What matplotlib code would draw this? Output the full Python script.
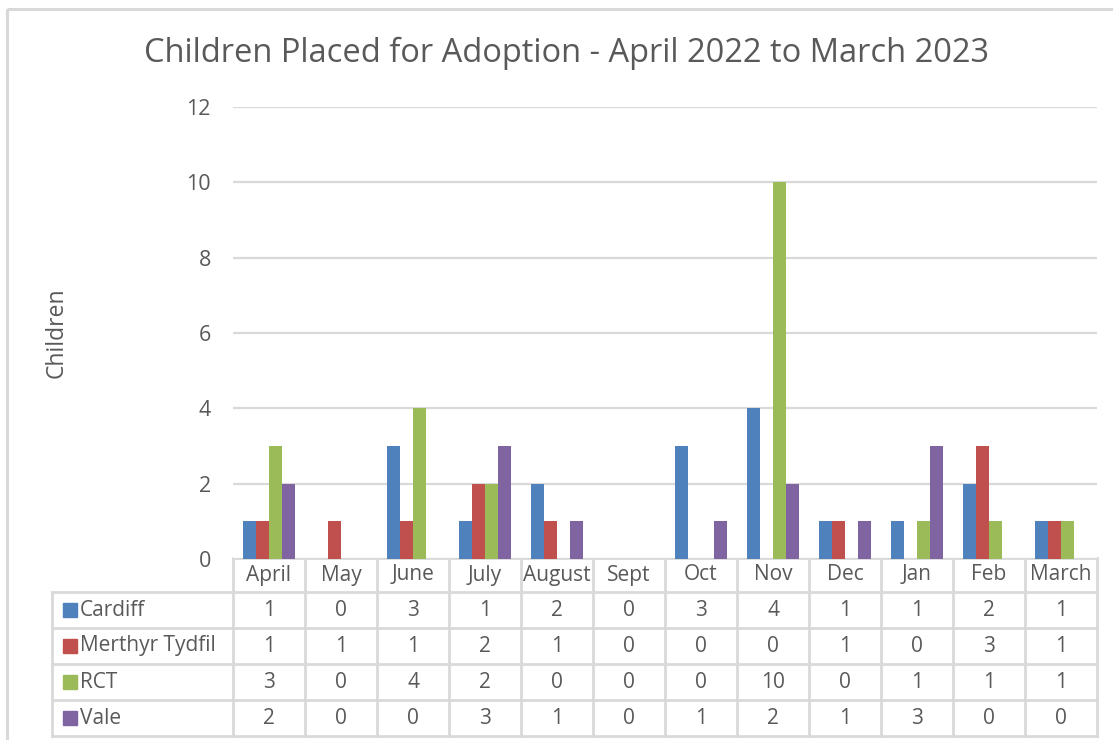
import matplotlib
matplotlib.use('Agg')
import matplotlib.pyplot as plt
from matplotlib.patches import Rectangle
import numpy as np

# data
months = ['April', 'May', 'June', 'July', 'August', 'Sept', 'Oct', 'Nov', 'Dec', 'Jan', 'Feb', 'March']
series_names = ['Cardiff', 'Merthyr Tydfil', 'RCT', 'Vale']
cardiff = [1, 0, 3, 1, 2, 0, 3, 4, 1, 1, 2, 1]
merthyr = [1, 1, 1, 2, 1, 0, 0, 0, 1, 0, 3, 1]
rct = [3, 0, 4, 2, 0, 0, 0, 10, 0, 1, 1, 1]
vale = [2, 0, 0, 3, 1, 0, 1, 2, 1, 3, 0, 0]
colors = ['#4F81BD', '#C0504D', '#9BBB59', '#8064A2']
title = 'Children Placed for Adoption - April 2022 to March 2023'

W, H = 1113, 740
plt.rcParams['font.family'] = ['Open Sans', 'DejaVu Sans']
txt = '#595959'
grid = '#D9D9D9'

fig = plt.figure(figsize=(W / 100, H / 100), dpi=100)

# overlay axes in pixel units (y down) for frame, title and data table
tab = fig.add_axes([0, 0, 1, 1], zorder=-1)
tab.set_xlim(0, W)
tab.set_ylim(H, 0)
tab.axis('off')

# outer chart frame (right/bottom run off the picture)
tab.add_patch(Rectangle((7, 9), 1200, 900, fill=False, edgecolor=grid, lw=2.2))

# plot area
x0, x1, ytop, ybot = 233, 1097, 107, 559
ax = fig.add_axes([x0 / W, 1 - ybot / H, (x1 - x0) / W, (ybot - ytop) / H])
all_series = [cardiff, merthyr, rct, vale]
x = np.arange(len(months))
bw = 0.184
for k, (vals, c) in enumerate(zip(all_series, colors)):
    ax.bar(x + (k - 1.5) * bw, vals, width=bw, color=c, zorder=3)
ax.set_xlim(-0.5, len(months) - 0.5)
ax.set_ylim(0, 12)
ax.set_yticks(range(0, 13, 2))
ax.yaxis.grid(True, color=grid, lw=1.6, zorder=0)
ax.set_xticks([])
for s in ax.spines.values():
    s.set_visible(False)
ax.tick_params(axis='y', length=0, pad=16, labelsize=15.5, labelcolor=txt)
ax.set_ylabel('Children', fontsize=16.5, color=txt)
ax.yaxis.set_label_coords((69 - x0) / (x1 - x0), 0.5)

tab.text(566, 53, title, ha='center', va='center', fontsize=23.5, color=txt)

# data table below the plot area
col_w = (x1 - x0) / len(months)
row_edges = [558, 592, 628, 664, 700, 736]
lw = 2
tab.plot([x0, x1], [row_edges[0], row_edges[0]], color=grid, lw=lw)
for i, m in enumerate(months):
    cx = x0 + (i + 0.5) * col_w
    tab.text(cx, (row_edges[0] + row_edges[1]) / 2, m, ha='center', va='center', fontsize=15, color=txt)
for r in range(1, len(row_edges)):
    tab.plot([52, x1], [row_edges[r], row_edges[r]], color=grid, lw=lw)
for i in range(len(months) + 1):
    tab.plot([x0 + i * col_w] * 2, [row_edges[0], row_edges[-1]], color=grid, lw=lw)
tab.plot([52, 52], [row_edges[1], row_edges[-1]], color=grid, lw=lw)
for r, (name, vals, c) in enumerate(zip(series_names, all_series, colors)):
    cy = (row_edges[r + 1] + row_edges[r + 2]) / 2
    tab.add_patch(Rectangle((63, cy - 7), 14, 14, color=c))
    tab.text(80, cy, name, ha='left', va='center', fontsize=15, color=txt)
    for i, v in enumerate(vals):
        tab.text(x0 + (i + 0.5) * col_w, cy, str(v), ha='center', va='center', fontsize=15, color=txt)

fig.savefig('out.png', dpi=100)
